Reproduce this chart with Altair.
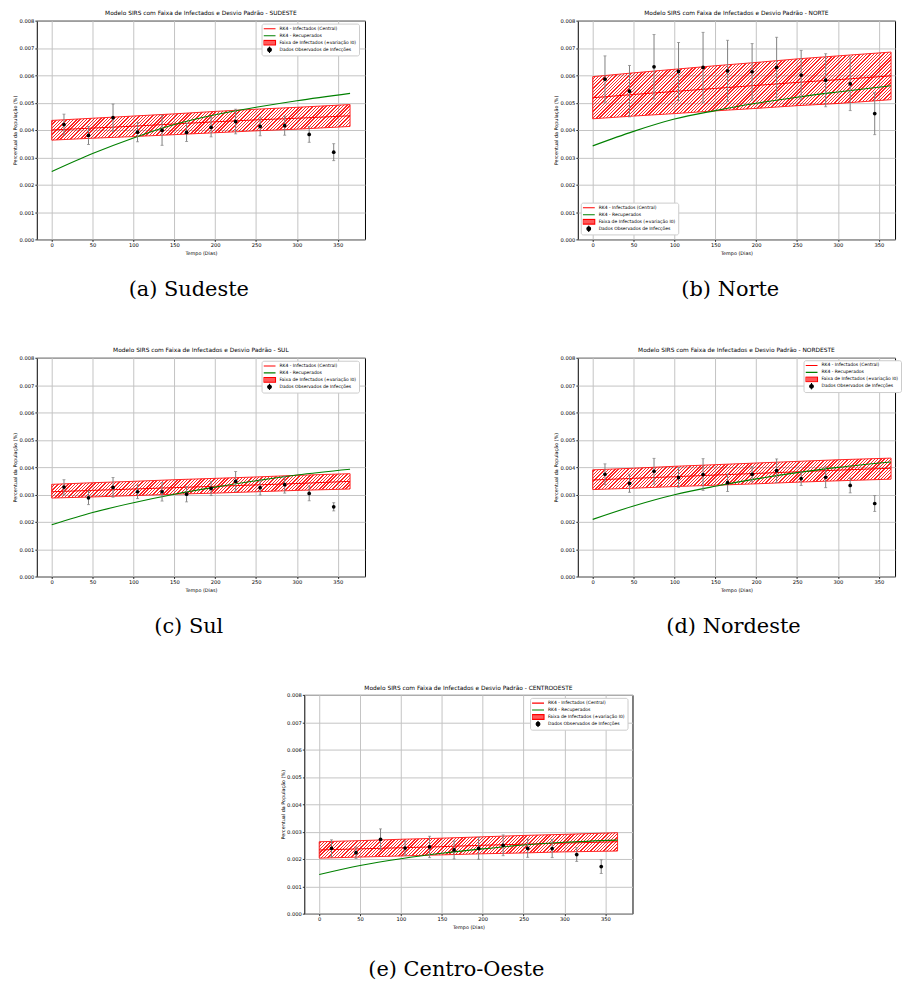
import altair as alt
import pandas as pd

# ---------------- data ----------------
T_OBS = [15, 45, 75, 105, 135, 165, 195, 225, 255, 285, 315, 345]
T_MODEL = [0, 50, 100, 150, 200, 250, 300, 365]

SERIES = ["RK4 - Infectados (Central)", "RK4 - Recuperados",
          "Faixa de Infectados (±variação I0)", "Dados Observados de Infecções"]

# Sudeste
se_obs = [0.00420, 0.00380, 0.00445, 0.00392, 0.00399, 0.00391, 0.00410, 0.00431, 0.00413, 0.00416, 0.00384, 0.00319]
se_sd = [0.00038, 0.00033, 0.00050, 0.00035, 0.00055, 0.00033, 0.00035, 0.00045, 0.00034, 0.00035, 0.00029, 0.00031]
se_central = [0.00400, 0.00407, 0.00414, 0.00422, 0.00430, 0.00437, 0.00443, 0.00452]
se_upper = [0.00435, 0.00443, 0.00451, 0.00459, 0.00468, 0.00476, 0.00483, 0.00493]
se_lower = [0.00363, 0.00370, 0.00376, 0.00383, 0.00390, 0.00397, 0.00403, 0.00413]
se_rec = [0.00248, 0.00314, 0.00371, 0.00420, 0.00456, 0.00483, 0.00507, 0.00534]

# Norte
no_obs = [0.00586, 0.00542, 0.00631, 0.00614, 0.00629, 0.00616, 0.00613, 0.00629, 0.00601, 0.00582, 0.00569, 0.00460]
no_sd = [0.00085, 0.00094, 0.00118, 0.00106, 0.00128, 0.00112, 0.00103, 0.00110, 0.00090, 0.00097, 0.00098, 0.00077]
no_central = [0.00518, 0.00530, 0.00541, 0.00552, 0.00563, 0.00574, 0.00584, 0.00598]
no_upper = [0.00595, 0.00609, 0.00622, 0.00635, 0.00647, 0.00660, 0.00671, 0.00685]
no_lower = [0.00441, 0.00451, 0.00460, 0.00470, 0.00479, 0.00489, 0.00497, 0.00511]
no_rec = [0.00342, 0.00395, 0.00440, 0.00471, 0.00498, 0.00520, 0.00539, 0.00562]

# Sul
su_obs = [0.00327, 0.00288, 0.00326, 0.00310, 0.00310, 0.00301, 0.00322, 0.00348, 0.00325, 0.00336, 0.00304, 0.00255]
su_sd = [0.00027, 0.00025, 0.00036, 0.00025, 0.00034, 0.00028, 0.00026, 0.00036, 0.00027, 0.00031, 0.00027, 0.00015]
su_central = [0.00310, 0.00315, 0.00320, 0.00325, 0.00330, 0.00335, 0.00340, 0.00348]
su_upper = [0.00337, 0.00343, 0.00348, 0.00354, 0.00359, 0.00364, 0.00370, 0.00376]
su_lower = [0.00287, 0.00291, 0.00296, 0.00301, 0.00305, 0.00310, 0.00315, 0.00320]
su_rec = [0.00189, 0.00234, 0.00270, 0.00301, 0.00327, 0.00350, 0.00371, 0.00392]

# Nordeste
ne_obs = [0.00374, 0.00341, 0.00385, 0.00362, 0.00373, 0.00343, 0.00374, 0.00387, 0.00358, 0.00363, 0.00333, 0.00267]
ne_sd = [0.00038, 0.00033, 0.00047, 0.00036, 0.00058, 0.00032, 0.00028, 0.00043, 0.00025, 0.00038, 0.00027, 0.00029]
ne_central = [0.00353, 0.00359, 0.00365, 0.00371, 0.00377, 0.00383, 0.00389, 0.00396]
ne_upper = [0.00390, 0.00396, 0.00403, 0.00409, 0.00415, 0.00421, 0.00427, 0.00433]
ne_lower = [0.00318, 0.00323, 0.00329, 0.00334, 0.00339, 0.00345, 0.00350, 0.00356]
ne_rec = [0.00209, 0.00258, 0.00299, 0.00330, 0.00357, 0.00380, 0.00399, 0.00419]

# Centro-Oeste
co_obs = [0.00239, 0.00223, 0.00272, 0.00240, 0.00244, 0.00233, 0.00239, 0.00250, 0.00239, 0.00238, 0.00216, 0.00172]
co_sd = [0.00031, 0.00021, 0.00038, 0.00026, 0.00039, 0.00033, 0.00040, 0.00038, 0.00033, 0.00033, 0.00025, 0.00025]
co_central = [0.00233, 0.00237, 0.00241, 0.00245, 0.00250, 0.00254, 0.00258, 0.00263]
co_upper = [0.00263, 0.00267, 0.00272, 0.00276, 0.00281, 0.00286, 0.00290, 0.00296]
co_lower = [0.00203, 0.00207, 0.00211, 0.00215, 0.00219, 0.00222, 0.00226, 0.00229]
co_rec = [0.00143, 0.00176, 0.00201, 0.00221, 0.00237, 0.00251, 0.00261, 0.00269]

X_TICKS = [0, 50, 100, 150, 200, 250, 300, 350]
Y_TICKS = [0.0, 0.001, 0.002, 0.003, 0.004, 0.005, 0.006, 0.007, 0.008]

# ---------------- layout / style ----------------
PLOT_H = 220
FULL_W = 330
X0, X1 = -18.25, 383.25
K = FULL_W / (X1 - X0)          # px per day
Y_MAX = 0.008
FONT = "DejaVu Sans"

LEG_PATHS = [
    "M-1.8,0H1.8",
    "M-1.8,0H1.8",
    "M-1.8,-0.7H1.8V0.7H-1.8Z",
    "M0,-1V1M-0.55,0A0.55,0.55 0 1,1 0.55,0A0.55,0.55 0 1,1 -0.55,0Z",
]
LEG_FILL = ["red", "green", "#ff5a5a", "black"]
LEG_STROKE = ["red", "green", "red", "black"]
IND = dict(fill="independent", stroke="independent", shape="independent")


def hatch(W, H, period=3.3, frac=0.42):
    L = W + H
    d = W * W + H * H
    stops = []
    k = 0
    clear = "rgba(255,0,0,0)"
    while True:
        s = k * period / L
        if s >= 1:
            break
        e = min(1.0, s + frac * period / L)
        stops += [{"offset": round(s, 5), "color": clear},
                  {"offset": round(s, 5), "color": "red"},
                  {"offset": round(e, 5), "color": "red"},
                  {"offset": round(e, 5), "color": clear}]
        k += 1
    return {"gradient": "linear", "x1": 0, "y1": 0,
            "x2": round(W * L / d, 5), "y2": round(H * L / d, 5), "stops": stops}


def panel(region, obs, sd, central, upper, lower, rec, width, lx, ly, label_limit=200):
    xmax = X0 + width / K
    xs = alt.Scale(domain=[X0, xmax], nice=False, zero=False)
    ys = alt.Scale(domain=[0, Y_MAX], nice=False, zero=False)
    xax = alt.Axis(values=X_TICKS, title="Tempo (Dias)")
    yax = alt.Axis(values=Y_TICKS, format=".3f", title="Percentual da População (%)")

    def X(f):
        return alt.X(f"{f}:Q", scale=xs, axis=xax)

    def Y(f):
        return alt.Y(f"{f}:Q", scale=ys, axis=yax)

    model = pd.DataFrame({"t": T_MODEL, "central": central, "upper": upper,
                          "lower": lower, "rec": rec})
    odf = pd.DataFrame({"t": T_OBS, "v": obs, "sd": sd})
    odf["lo"] = odf["v"] - odf["sd"]
    odf["hi"] = odf["v"] + odf["sd"]

    W = 365 * K
    H = (max(upper) - min(lower)) / Y_MAX * PLOT_H

    base = alt.Chart(model)
    band = base.mark_area(fill=hatch(W, H), stroke="red", strokeWidth=1, opacity=0.85).encode(
        x=X("t"), y=Y("upper"), y2="lower:Q")
    cline = base.mark_line(color="red", strokeWidth=1).encode(x=X("t"), y=Y("central"))
    rline = base.mark_line(color="green", strokeWidth=1.1, interpolate="monotone").encode(
        x=X("t"), y=Y("rec"))

    ob = alt.Chart(odf)
    ebar = ob.mark_rule(color="#808080", strokeWidth=1).encode(x=X("t"), y=Y("lo"), y2="hi:Q")
    cap_lo = ob.mark_tick(orient="horizontal", color="#808080", size=3, thickness=1).encode(
        x=X("t"), y=Y("lo"))
    cap_hi = ob.mark_tick(orient="horizontal", color="#808080", size=3, thickness=1).encode(
        x=X("t"), y=Y("hi"))
    pts = ob.mark_circle(color="black", size=14, opacity=1).encode(x=X("t"), y=Y("v"))

    leg = alt.Legend(title=None, orient="none", legendX=lx, legendY=ly,
                     labelFont=FONT, labelFontSize=4.5, labelColor="black",
                     fillColor="white", strokeColor="#cccccc", padding=2,
                     cornerRadius=2, rowPadding=0, clipHeight=6.5, symbolSize=45,
                     symbolStrokeWidth=1.1, symbolOffset=2, labelOffset=6,
                     labelLimit=label_limit)
    ldf = pd.DataFrame({"serie": SERIES, "t": [-1000] * 4, "v": [0.001] * 4})
    legl = alt.Chart(ldf).mark_point(filled=True, size=45, clip=True, opacity=1).encode(
        x=X("t"), y=Y("v"),
        fill=alt.Fill("serie:N", scale=alt.Scale(domain=SERIES, range=LEG_FILL), legend=leg),
        stroke=alt.Stroke("serie:N", scale=alt.Scale(domain=SERIES, range=LEG_STROKE), legend=leg),
        shape=alt.Shape("serie:N", scale=alt.Scale(domain=SERIES, range=LEG_PATHS), legend=leg),
    )

    return alt.layer(band, cline, rline, ebar, cap_lo, cap_hi, pts, legl).properties(
        width=width, height=PLOT_H,
        title=alt.TitleParams(f"Modelo SIRS com Faixa de Infectados e Desvio Padrão - {region}",
                              font=FONT, fontSize=5.9, fontWeight="normal", color="black",
                              offset=2.5, anchor="middle"))


def captioned(ch, text, dx=0, offset=24):
    return alt.vconcat(ch).properties(
        title=alt.TitleParams(text, orient="bottom", font="DejaVu Serif", fontSize=21,
                              fontWeight="normal", color="black", offset=offset,
                              anchor="middle", dx=dx)).resolve_scale(**IND)


pa = panel("SUDESTE", se_obs, se_sd, se_central, se_upper, se_lower, se_rec, FULL_W, 226, 3)
pb = panel("NORTE", no_obs, no_sd, no_central, no_upper, no_lower, no_rec, 319, 3, 183)
pc = panel("SUL", su_obs, su_sd, su_central, su_upper, su_lower, su_rec, FULL_W, 226, 3)
pd_ = panel("NORDESTE", ne_obs, ne_sd, ne_central, ne_upper, ne_lower, ne_rec, 319, 227, 2.5,
            label_limit=80)
pe = panel("CENTROOESTE", co_obs, co_sd, co_central, co_upper, co_lower, co_rec, FULL_W, 227, 3)

spacer = alt.Chart(pd.DataFrame({"t": [0]})).mark_point(opacity=0).encode(
    x=alt.X("t:Q", axis=None), y=alt.Y("t:Q", axis=None)).properties(
    width=244, height=10, view=alt.ViewBackground(stroke=None))

row1 = alt.hconcat(captioned(pa, "(a) Sudeste"), captioned(pb, "(b) Norte", dx=6),
                   spacing=188).resolve_scale(**IND)
row2 = alt.hconcat(captioned(pc, "(c) Sul"), captioned(pd_, "(d) Nordeste", dx=6),
                   spacing=188).resolve_scale(**IND)
row3 = alt.hconcat(spacer, captioned(pe, "(e) Centro-Oeste", offset=30),
                   spacing=0).resolve_scale(**IND)

chart = alt.vconcat(row1, row2, row3, spacing=46).resolve_scale(**IND).properties(
    padding={"left": 12, "top": 7, "right": 0, "bottom": 0}
).configure_axis(
    labelFont=FONT, labelFontSize=5.2, labelColor="black",
    titleFont=FONT, titleFontSize=4.9, titleFontWeight="normal", titleColor="black",
    tickColor="black", tickSize=2, tickWidth=0.8, domain=False,
    grid=True, gridColor="#c4c4c4", gridWidth=1, labelPadding=1,
).configure_axisX(titlePadding=2.5).configure_axisY(titlePadding=1.5).configure_view(
    stroke="black", strokeWidth=1
).configure_legend(orient="none")

chart.save("out.html", embed_options={"renderer": "svg", "actions": False})
